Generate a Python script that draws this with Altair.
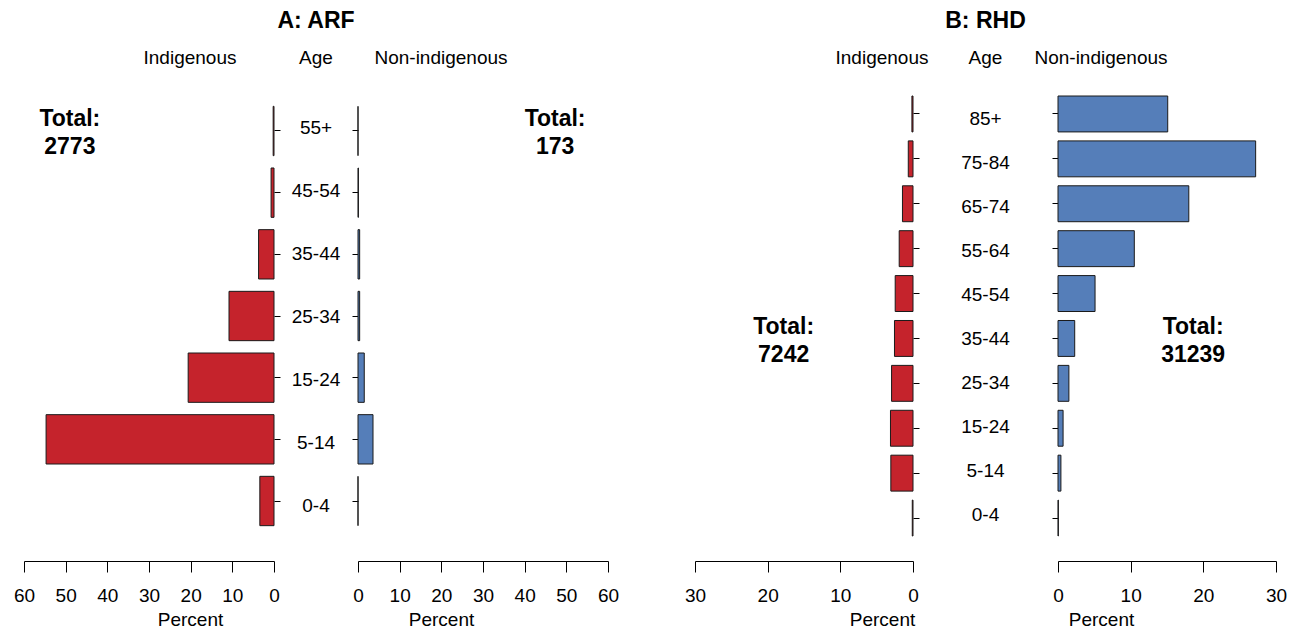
import altair as alt
import pandas as pd

FONT = "Liberation Sans"
RED = "#C5232C"
BLUE = "#557EB9"
STROKE = "#1a1a1a"
FS = 19
FS_BIG = 23

# ---- Data (percent of all cases) ----
ages_arf = ["0-4", "5-14", "15-24", "25-34", "35-44", "45-54", "55+"]
arf_indigenous = [3.4, 54.7, 20.6, 10.8, 3.7, 0.7, 0.2]
arf_non_indigenous = [0.0, 3.6, 1.5, 0.4, 0.4, 0.1, 0.0]
arf_totals = [2773, 173]

ages_rhd = ["0-4", "5-14", "15-24", "25-34", "35-44", "45-54",
            "55-64", "65-74", "75-84", "85+"]
rhd_indigenous = [0.1, 3.05, 3.1, 2.95, 2.55, 2.45, 1.9, 1.45, 0.65, 0.15]
rhd_non_indigenous = [0.05, 0.4, 0.7, 1.5, 2.3, 5.1, 10.5, 18.0, 27.2, 15.1]
rhd_totals = [7242, 31239]

H = 440


def yscale(pad_outer):
    return alt.Scale(paddingInner=0.2, paddingOuter=pad_outer)


def side(ages, values, color, xmax, reverse, width, pad_outer, tick_vals,
         header, header_dx, title_x, y_orient, total, total_x, total_row, total_dy):
    df = pd.DataFrame({"age": ages, "pct": values})
    order = ages[::-1]
    y = alt.Y("age:N", sort=order, scale=yscale(pad_outer),
              axis=alt.Axis(orient=y_orient, labels=False, domain=False,
                            ticks=True, tickSize=6, tickColor="black",
                            tickWidth=1, title=None, grid=False))
    x = alt.X("pct:Q",
              scale=alt.Scale(domain=[0, xmax], reverse=reverse, nice=False, zero=True),
              axis=alt.Axis(values=tick_vals, title="Percent", titleX=title_x,
                            offset=25, grid=False, tickSize=11, tickColor="black",
                            tickWidth=1, domainColor="black", domainWidth=1,
                            labelFont=FONT, labelFontSize=FS, labelColor="black",
                            labelPadding=14, titleFont=FONT, titleFontSize=FS,
                            titleFontWeight="normal", titleColor="black",
                            titlePadding=5, labelOverlap=False, labelFlush=False))
    bars = alt.Chart(df).mark_bar(color=color, stroke=STROKE, strokeWidth=1).encode(
        x=x, y=y)
    tdf = pd.DataFrame({"label": [f"Total:\n{total}"]})
    txt = alt.Chart(tdf).mark_text(font=FONT, fontSize=FS_BIG, fontWeight="bold",
                                   lineBreak="\n", lineHeight=28, baseline="middle",
                                   align="center", color="black", dy=total_dy).encode(
        x=alt.datum(total_x), y=alt.datum(total_row), text="label:N")
    return alt.layer(bars, txt).properties(
        width=width, height=H,
        title=alt.TitleParams(text=header, font=FONT, fontSize=FS,
                              fontWeight="normal", color="black", dx=header_dx,
                              offset=28, anchor="middle"))


def middle(ages, width, pad_outer, title):
    df = pd.DataFrame({"age": ages})
    return alt.Chart(df).mark_text(font=FONT, fontSize=FS, color="black", dy=1).encode(
        y=alt.Y("age:N", sort=ages[::-1], scale=yscale(pad_outer), axis=None),
        text="age:N",
    ).properties(width=width, height=H,
                 title=alt.TitleParams(text=title, subtitle="Age", font=FONT,
                                       fontSize=FS_BIG, fontWeight="bold",
                                       color="black", subtitleFont=FONT,
                                       subtitleFontSize=FS, subtitleColor="black",
                                       subtitleFontWeight="normal",
                                       subtitlePadding=16, offset=28,
                                       anchor="middle"))


PA = 0.1675
ticks_a = [0, 10, 20, 30, 40, 50, 60]
ticks_b = [0, 10, 20, 30]

leftA = side(ages_arf, arf_indigenous, RED, 60, True, 250, PA, ticks_a,
             "Indigenous", 41, 166, "right", arf_totals[0], 49, "55+", -12)
midA = middle(ages_arf, 84, PA, "A: ARF")
rightA = side(ages_arf, arf_non_indigenous, BLUE, 60, False, 250, PA, ticks_a,
              "Non-indigenous", -42, 83, "left", arf_totals[1], 47.3, "55+", -12)

spacer = alt.Chart(pd.DataFrame({"a": [0]})).mark_point(opacity=0).properties(
    width=87, height=H)

leftB = side(ages_rhd, rhd_indigenous, RED, 30, True, 218, 0, ticks_b,
             "Indigenous", 78, 187, "right", rhd_totals[0], 17.8, "35-44", -11)
midB = middle(ages_rhd, 145, 0, "B: RHD")
rightB = side(ages_rhd, rhd_non_indigenous, BLUE, 30, False, 218, 0, ticks_b,
              "Non-indigenous", -66, 43, "left", rhd_totals[1], 18.6, "35-44", -11)

chart = alt.hconcat(leftA, midA, rightA, spacer, leftB, midB, rightB,
                    spacing=0, bounds="flush").properties(
    padding={"left": 5, "top": 2, "right": 0, "bottom": 0}
).configure_view(stroke=None)

chart.save("out.html", embed_options={"renderer": "svg", "actions": False})
